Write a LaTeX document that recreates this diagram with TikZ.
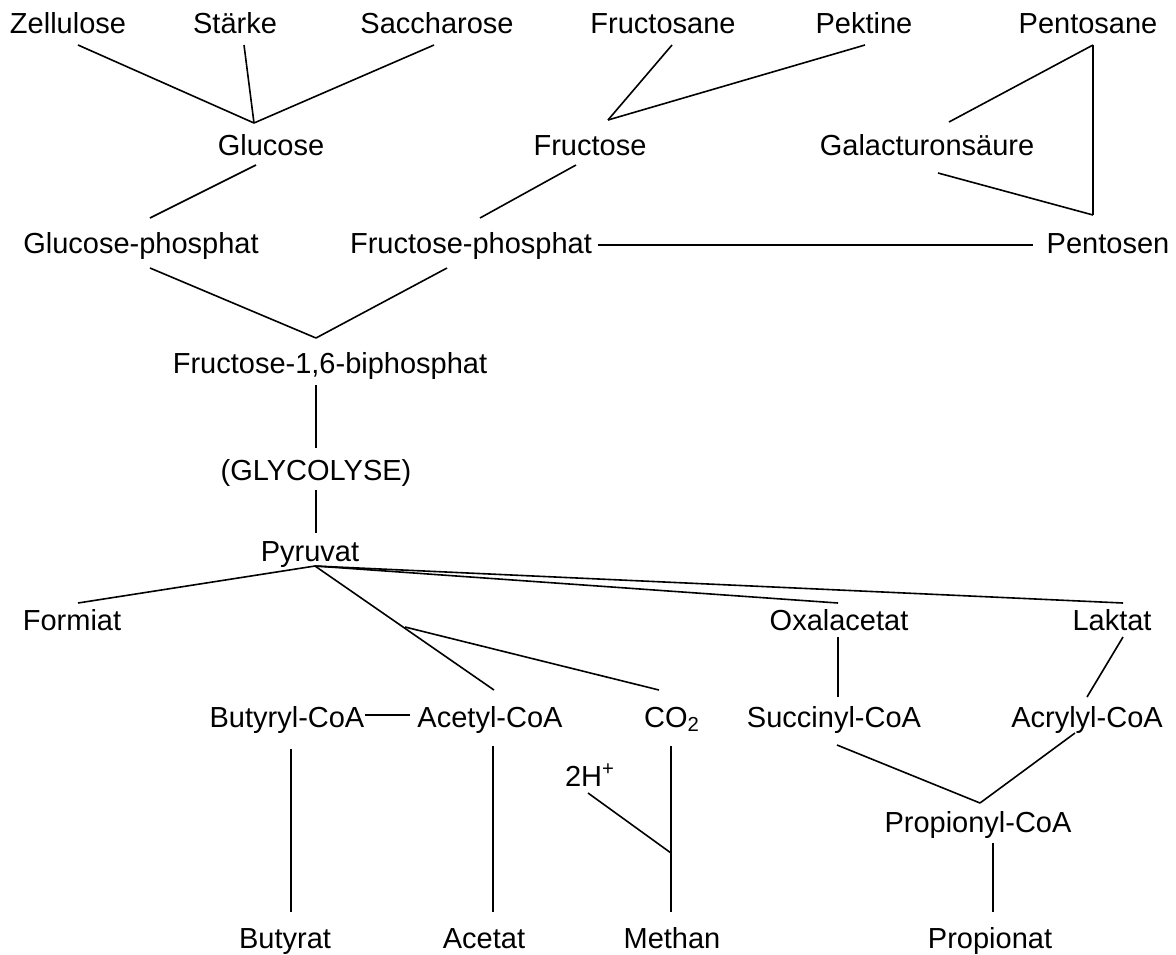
\documentclass[tikz,border=0pt]{standalone}
\usepackage{fontspec}
\setmainfont{Liberation Sans}
\usetikzlibrary{calc}

\begin{document}
\begin{tikzpicture}[x=0.5pt, y=-0.5pt,
    lbl/.style={anchor=base, inner sep=0pt, font=\fontsize{14.5}{17}\selectfont},
    bond/.style={line width=0.8pt}]

    \useasboundingbox (0,0) rectangle (1176,954);

    % Polysaccharides
    \node[lbl] (zell)    at (68,33)   {Zellulose};
    \node[lbl] (staerke) at (235,33)  {Stärke};
    \node[lbl] (sacch)   at (437,33)  {Saccharose};
    \node[lbl] (fsane)   at (663,33)  {Fructosane};
    \node[lbl] (pekt)    at (864,33)  {Pektine};
    \node[lbl] (psane)   at (1088,33) {Pentosane};

    % Monosaccharides
    \node[lbl] (glc) at (271,155) {Glucose};
    \node[lbl] (fru) at (590,155) {Fructose};
    \node[lbl] (gal) at (927,155) {Galacturonsäure};

    % Phosphates
    \node[lbl] (gph) at (141,253)  {Glucose-phosphat};
    \node[lbl] (fph) at (471,253)  {Fructose-phosphat};
    \node[lbl] (pen) at (1108,253) {Pentosen};
    \node[lbl] (fbp) at (330,373)  {Fructose-1,6-biphosphat};

    % Glycolysis
    \node[lbl] (glyc) at (316,480) {(GLYCOLYSE)};
    \node[lbl] (pyr)  at (310,561) {Pyruvat};

    % Intermediates
    \node[lbl] (form)  at (72,630)   {Formiat};
    \node[lbl] (oxa)   at (839,630)  {Oxalacetat};
    \node[lbl] (lak)   at (1112,630) {Laktat};
    \node[lbl] (bcoa)  at (287,727)  {Butyryl-CoA};
    \node[lbl] (acoa)  at (490,727)  {Acetyl-CoA};
    \node[lbl] (co2)   at (672,727)  {CO\textsubscript{2}};
    \node[lbl] (scoa)  at (834,727)  {Succinyl-CoA};
    \node[lbl] (accoa) at (1087,727) {Acrylyl-CoA};
    \node[lbl] (hh)    at (590,786)  {2H\textsuperscript{+}};
    \node[lbl] (pcoa)  at (978,832)  {Propionyl-CoA};

    % End products
    \node[lbl] (buty) at (285,948) {Butyrat};
    \node[lbl] (acet) at (484,948) {Acetat};
    \node[lbl] (meth) at (672,948) {Methan};
    \node[lbl] (prop) at (990,948) {Propionat};

    % Junctions
    \coordinate (jglc)  at (254,123);
    \coordinate (jfru)  at (608,120);
    \coordinate (jpen)  at (1093,215);
    \coordinate (jfbp)  at (316,338);
    \coordinate (jpyr)  at (315,566);
    \coordinate (jco2)  at (405,627);
    \coordinate (jmeth) at (671,853);
    \coordinate (jpcoa) at (980,803);

    % Upper part
    \draw[bond] ($(zell.base)+(10,12)$) -- (jglc);
    \draw[bond] ($(staerke.base)+(9,12)$) -- (jglc);
    \draw[bond] ($(sacch.base)+(-3,12)$) -- (jglc);
    \draw[bond] ($(fsane.base)+(9,12)$) -- (jfru);
    \draw[bond] ($(pekt.base)+(1,12)$) -- (jfru);
    \draw[bond] ($(psane.base)+(5,12)$) -- ($(gal.base)+(22,-33)$);
    \draw[bond] ($(psane.base)+(5,12)$) -- (jpen);
    \draw[bond] ($(gal.base)+(11,18)$) -- (jpen);
    \draw[bond] ($(glc.base)+(-15,10)$) -- ($(gph.base)+(9,-35)$);
    \draw[bond] ($(fru.base)+(-14,10)$) -- ($(fph.base)+(9,-35)$);
    \draw[bond] ($(fph.base east)+(6,-8)$) -- ($(pen.base west)+(-13,-8)$);
    \draw[bond] ($(gph.base)+(9,15)$) -- (jfbp);
    \draw[bond] ($(fph.base)+(-24,15)$) -- (jfbp);

    % Glycolysis
    \draw[bond] ($(fbp.base)+(-14,12)$) -- ($(glyc.base)+(0,-32)$);
    \draw[bond] ($(glyc.base)+(0,10)$) -- ($(pyr.base)+(6,-28)$);

    % Pyruvat branches
    \draw[bond] (jpyr) -- ($(form.base)+(6,-27)$);
    \draw[bond] (jpyr) -- ($(acoa.base)+(4,-37)$);
    \draw[bond] (jco2) -- ($(co2.base)+(-13,-37)$);
    \draw[bond] (jpyr) -- ($(oxa.base)+(-1,-27)$);
    \draw[bond] (jpyr) -- ($(lak.base)+(11,-27)$);

    % Lower part
    \draw[bond] ($(bcoa.base east)+(0,-12)$) -- ($(acoa.base west)+(-7,-12)$);
    \draw[bond] ($(bcoa.base)+(4,22)$) -- ($(buty.base)+(6,-36)$);
    \draw[bond] ($(acoa.base)+(3,19)$) -- ($(acet.base)+(9,-36)$);
    \draw[bond] ($(co2.base)+(-1,19)$) -- ($(meth.base)+(-1,-36)$);
    \draw[bond] ($(hh.base)+(-2,7)$) -- (jmeth);
    \draw[bond] ($(oxa.base)+(-1,7)$) -- ($(scoa.base)+(4,-30)$);
    \draw[bond] ($(lak.base)+(11,7)$) -- ($(accoa.base)+(0,-30)$);
    \draw[bond] ($(scoa.base)+(3,18)$) -- (jpcoa);
    \draw[bond] ($(accoa.base)+(-12,6)$) -- (jpcoa);
    \draw[bond] ($(pcoa.base)+(15,11)$) -- ($(prop.base)+(3,-36)$);

\end{tikzpicture}
\end{document}
